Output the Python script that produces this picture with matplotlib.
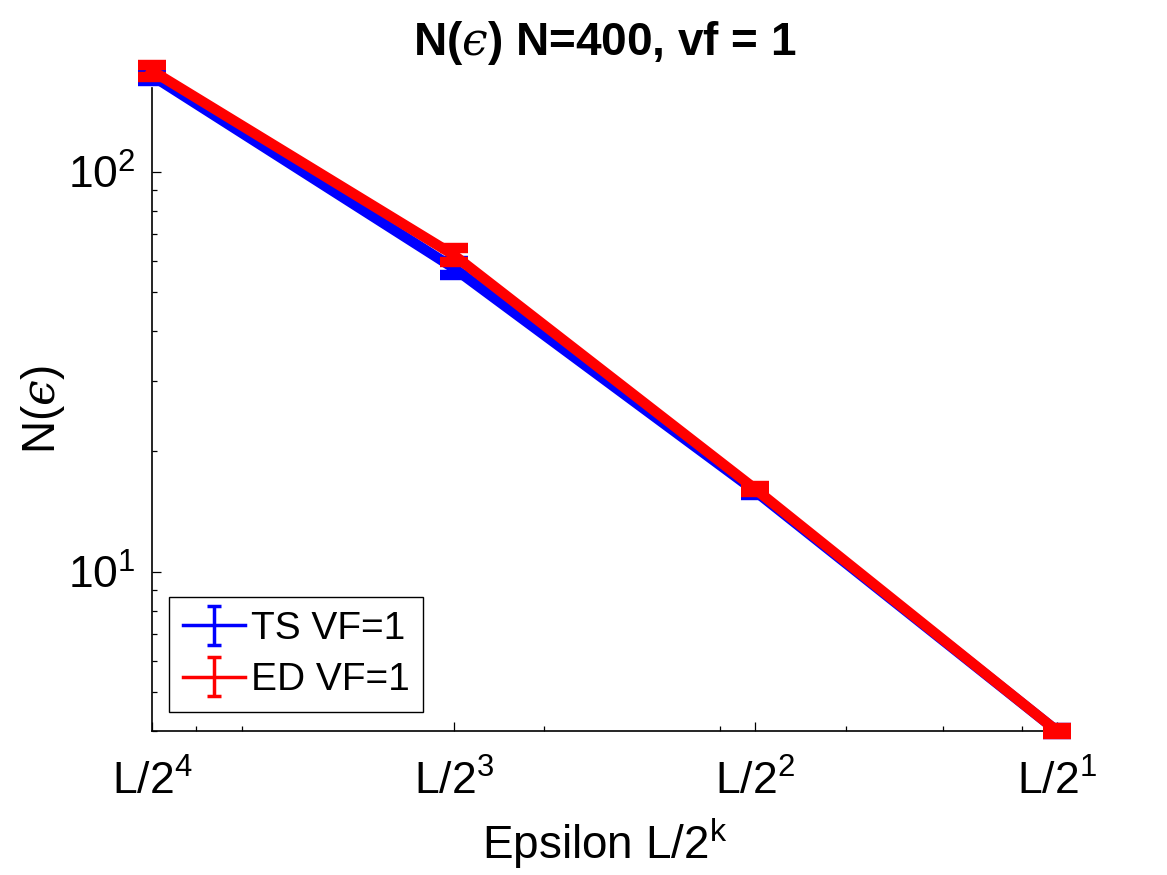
import numpy as np
import matplotlib
matplotlib.use("Agg")
import matplotlib.pyplot as plt
from matplotlib.ticker import FixedLocator, LogLocator, NullFormatter
from matplotlib.lines import Line2D
from matplotlib.collections import LineCollection

plt.rcParams['font.family'] = ['Liberation Sans', 'DejaVu Sans']
plt.rcParams['mathtext.fontset'] = 'custom'
plt.rcParams['mathtext.rm'] = 'Liberation Sans'
plt.rcParams['mathtext.it'] = 'DejaVu Serif:italic'
plt.rcParams['mathtext.bf'] = 'Liberation Sans:bold'

# box size L and the four box sizes L/2^k
L = 13.0
k = [4, 3, 2, 1]
eps = [L / 2 ** i for i in k]
tick_labels = [r'L/2$^{\mathrm{%d}}$' % i for i in k]

# box counts
ts_N = [174, 57.5, 15.9, 4.0]
ts_err = [5.0, 2.2, 0.38, 0.08]
ed_N = [179, 62.0, 16.1, 4.0]
ed_err = [6.0, 2.4, 0.3, 0.08]

fig = plt.figure(figsize=(11.67, 8.75), dpi=100)
ax = fig.add_axes([0.1302, 0.1646, 0.7755, 0.7348])

lw = 7.5
ax.errorbar(eps, ts_N, yerr=ts_err, color=(0, 0, 1), lw=lw, capsize=10,
            capthick=lw, label='TS VF=1', clip_on=False, zorder=3)
ax.errorbar(eps, ed_N, yerr=ed_err, color=(1, 0, 0), lw=lw, capsize=10,
            capthick=lw, label='ED VF=1', clip_on=False, zorder=4)

ax.set_xscale('log')
ax.set_yscale('log')
ax.set_xlim(L / 16, L / 2)
ax.set_ylim(4.0, 162)

ax.xaxis.set_major_locator(FixedLocator(eps))
ax.set_xticklabels(tick_labels)
ax.xaxis.set_minor_locator(LogLocator(base=10, subs=np.arange(1, 10)))
ax.xaxis.set_minor_formatter(NullFormatter())
ax.yaxis.set_minor_formatter(NullFormatter())

for s in ['top', 'right']:
    ax.spines[s].set_visible(False)
for s in ['left', 'bottom']:
    ax.spines[s].set_linewidth(1.2)

ax.tick_params(which='both', direction='in', width=0.9)
ax.tick_params(which='major', length=6.5, labelsize=32)
ax.tick_params(which='minor', length=3.6)
ax.tick_params(axis='x', which='major', pad=21)
ax.tick_params(axis='y', which='major', pad=12)

ax.set_title(r'N($\mathit{ϵ}$) N=400, vf = 1', fontsize=33, fontweight='bold', pad=24)
ax.set_xlabel(r'Epsilon L/2$^{\mathrm{k}}$', fontsize=33, labelpad=10)
ax.set_ylabel(r'N($\mathit{ϵ}$)', fontsize=33)
ax.yaxis.set_label_coords(-0.094, 0.5)

leg = ax.legend(loc='lower left', fontsize=28, frameon=True, fancybox=False,
                edgecolor='black', framealpha=1, borderpad=0.35,
                borderaxespad=0, handlelength=1.6, handletextpad=0.15,
                labelspacing=0.4, bbox_to_anchor=(0.019, 0.0295))
leg.get_frame().set_linewidth(1.0)
for a in leg.findobj():
    if isinstance(a, Line2D):
        a.set_linewidth(2.5)
        a.set_markeredgewidth(2.5)
        a.set_markersize(10)
    elif isinstance(a, LineCollection):
        a.set_linewidth(2.5)

fig.savefig('out.png', dpi=100)
